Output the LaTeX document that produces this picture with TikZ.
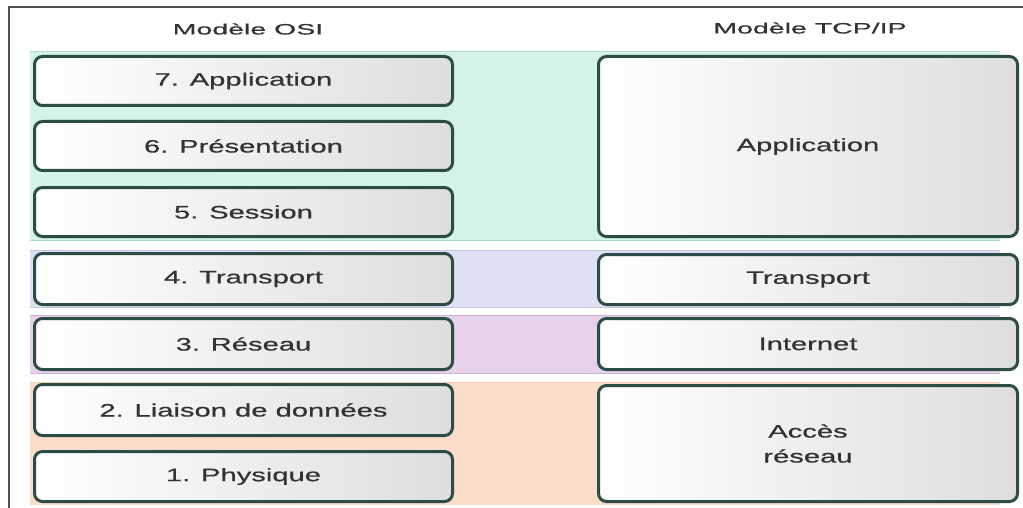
\documentclass[tikz,border=0pt]{standalone}
\usepackage{fontspec}
\setmainfont{Liberation Sans}
\newfontfamily\boxfont[FakeStretch=1.62,FakeBold=0.6]{Liberation Sans}
\newfontfamily\titlefont[FakeStretch=1.9,FakeBold=0.6]{Liberation Sans}
\definecolor{boxline}{HTML}{2B4D45}
\definecolor{boxgray}{HTML}{DEDEDE}
\definecolor{txt}{HTML}{333333}
\definecolor{framegray}{HTML}{505050}
\definecolor{bandgreen}{HTML}{D4F2E7}
\definecolor{bandgreenline}{HTML}{A6E0C7}
\definecolor{bandblue}{HTML}{E0E0F5}
\definecolor{bandblueline}{HTML}{C4C4E6}
\definecolor{bandpurple}{HTML}{E6D2EA}
\definecolor{bandpurpleline}{HTML}{CDB3D4}
\definecolor{bandorange}{HTML}{FCDDC9}
\definecolor{bandorangeline}{HTML}{F5CDB2}
\tikzset{
  layerbox/.style={draw=boxline, line width=3pt, rounded corners=8pt,
    left color=white, right color=boxgray, text=txt, inner sep=0pt,
    align=center, font=\boxfont\fontsize{18}{25}\selectfont},
  osibox/.style={layerbox, minimum width=418pt},
  tcpbox/.style={layerbox, minimum width=419pt},
  titletext/.style={text=txt, inner sep=0pt, font=\titlefont\fontsize{15}{17}\selectfont}
}
\begin{document}
\begin{tikzpicture}[x=1pt,y=-1pt]
\useasboundingbox (0,0) rectangle (1023,508);
\fill[white] (0,0) rectangle (1023,508);
% outer frame
\draw[framegray, line width=1.5pt] (9,508) -- (9,7) -- (1023,7);
% bands
\fill[bandgreen] (30,52) rectangle (1000,240);
\draw[bandgreenline, line width=1pt] (30,52) -- (1000,52);
\draw[bandgreenline, line width=1pt] (30,240) -- (1000,240);
\fill[bandblue] (30,250) rectangle (1000,307);
\draw[bandblueline, line width=1pt] (30,250) -- (1000,250);
\draw[bandblueline, line width=1pt] (30,307) -- (1000,307);
\fill[bandpurple] (30,315) rectangle (1000,373);
\draw[bandpurpleline, line width=1pt] (30,315) -- (1000,315);
\draw[bandpurpleline, line width=1pt] (30,373) -- (1000,373);
\fill[bandorange] (30,382) rectangle (1000,505);
\draw[bandorangeline, line width=1pt] (30,382) -- (1000,382);
% titles
\node[titletext] (tosi) at (248,29) {Modèle OSI};
\node[titletext] (ttcp) at (810,28) {Modèle TCP/IP};
% OSI layers
\node[osibox, minimum height=49pt] (l7) at (243.5,81) {7. Application};
\node[osibox, minimum height=49pt] (l6) at (243.5,146) {6. Présentation};
\node[osibox, minimum height=49pt] (l5) at (243.5,212) {5. Session};
\node[osibox, minimum height=51pt] (l4) at (243.5,279) {4. Transport};
\node[osibox, minimum height=51pt] (l3) at (243.5,344) {3. Réseau};
\node[osibox, minimum height=51pt] (l2) at (243.5,410) {2. Liaison de données};
\node[osibox, minimum height=50pt] (l1) at (243.5,476.5) {1. Physique};
% TCP/IP layers
\node[tcpbox, minimum height=180pt] (tapp) at (808,146.5) {Application};
\node[tcpbox, minimum height=50pt] (ttr) at (808,279.5) {Transport};
\node[tcpbox, minimum height=51pt] (tint) at (808,344) {Internet};
\node[tcpbox, minimum height=116pt] (tacc) at (808,443.5) {Accès\\réseau};
\end{tikzpicture}
\end{document}
